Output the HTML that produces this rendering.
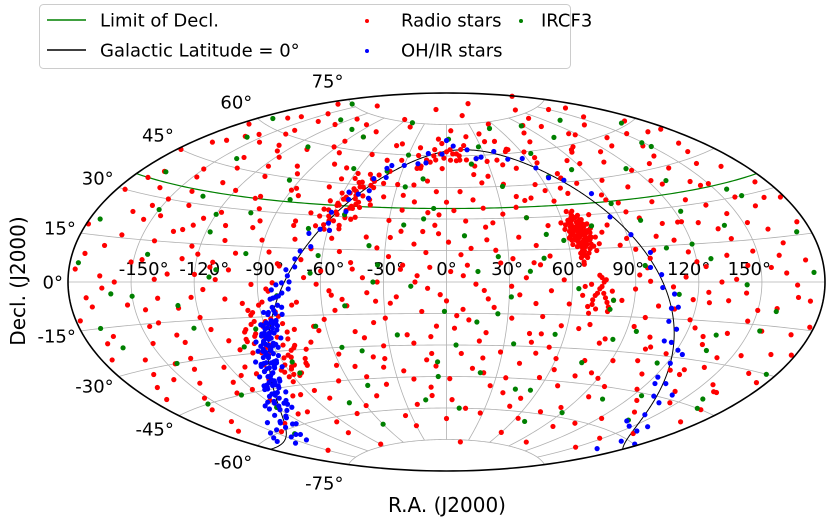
<!DOCTYPE html>
<html><head><meta charset="utf-8"><style>
html,body{margin:0;padding:0;background:#fff;}
svg{display:block;font-family:"DejaVu Sans","Liberation Sans",sans-serif;}
</style></head><body>
<svg id="chart" width="830" height="526" viewBox="0 0 830 526">
<g id="grid"></g>
<g id="ticks"></g>
<g id="lines"></g>
<g id="pts"></g>
<g id="frame"></g>
<text x="447" y="512" font-size="20" text-anchor="middle">R.A. (J2000)</text>
<text x="0" y="0" font-size="20" text-anchor="middle" transform="translate(25,281) rotate(-90)">Decl. (J2000)</text>
<g>
<rect x="39.5" y="4.5" width="531" height="64" rx="4" fill="#fff" fill-opacity="0.85" stroke="#ccc"/>
<g><line x1="47" y1="20" x2="86" y2="20" stroke="#008000" stroke-width="1.5"/><text x="100" y="26.5" font-size="18">Limit of Decl.</text></g>
<g><line x1="47" y1="50" x2="86" y2="50" stroke="#000" stroke-width="1.5"/><text x="100" y="56.5" font-size="18">Galactic Latitude = 0°</text></g>
<g><circle cx="367" cy="21" r="2" fill="#ff0000"/><text x="401" y="26.5" font-size="18">Radio stars</text></g>
<g><circle cx="367" cy="51" r="2" fill="#0000ff"/><text x="401" y="56.5" font-size="18">OH/IR stars</text></g>
<g><circle cx="521" cy="21" r="2" fill="#008000"/><text x="541" y="26.5" font-size="18">IRCF3</text></g>
</g>
</svg>
<script>
// ---------- data ----------
const lonTicks = [-150,-120,-90,-60,-30,0,30,60,90,120,150];
const latTicks = [-75,-60,-45,-30,-15,0,15,30,45,60,75];
const limitDecl = 35;
const redRA = [
-170,-135,-95,-62,-25,5,28,55,90,120,150,178,-150,70,
-175,-160,-140,-122,-108,-90,-75,-58,-40,-22,-8,12,30,45,62,80,98,115,135,155,170,-130,20,105,
-178,-165,-150,-138,-125,-112,-100,-88,-78,-66,-50,-38,-25,-12,-3,8,18,35,48,58,72,86,95,108,122,133,146,158,168,-145,40,115,
-176,-168,-155,-142,-131,-118,-106,-96,-84,-72,-55,-42,-30,-18,-6,4,15,24,38,52,60,75,88,100,112,126,138,150,162,174,-160,-125,-60,30,145,-10,
-179,-166,-154,-143,-132,-120,-109,-98,-86,-75,-62,-52,-40,-28,-16,-4,7,20,32,44,78,92,104,117,128,140,152,164,176,-147,-70,-23,12,110,135,
-177,-164,-151,-139,-127,-116,-104,-93,-81,-68,-56,-45,-33,-21,-9,2,14,26,38,50,96,108,120,131,143,155,167,-172,-120,-38,-14,45,125,160,
-178,-166,-153,-141,-129,-117,-106,-94,-72,-60,-48,-36,-24,-12,0,11,23,35,47,59,71,84,97,110,123,135,147,159,171,-135,-55,5,65,140,
-175,-162,-149,-136,-123,-111,-70,-58,-46,-33,-20,-8,4,17,29,42,54,66,79,91,103,116,129,141,154,166,178,-155,-40,60,125,
-172,-158,-144,-131,-118,-105,-66,-52,-38,-25,-11,2,15,28,41,56,70,84,98,112,126,140,155,168,-85,-10,
-168,-145,-120,-95,-60,-35,-10,15,38,62,85,110,135,160,-80,0,48,95,
-150,-90,-30,20,60,100,150,-100,
-165,-115,-80,-45,-10,35,75,110,140,165,-140,50,
-170,-155,-133,-118,-95,-83,-70,-58,-44,-30,-18,-6,10,22,40,54,66,79,92,102,118,128,140,152,164,176,
-172,-162,-148,-137,-120,-112,-100,-90,-78,-66,-48,-36,-24,-12,0,10,20,42,48,64,70,82,94,106,118,130,142,156,168,178,
-174,-160,-146,-136,-124,-113,-102,-91,-80,-66,-57,-46,-34,-22,-10,1,10,24,36,50,85,98,112,124,136,148,160,172,
-170,-158,-145,-133,-122,-110,-98,-85,-62,-50,-40,-27,-15,-3,8,20,31,43,56,90,102,114,126,138,150,162,174,
-171,-159,-146,-133,-120,-108,-66,-54,-42,-30,-17,-5,8,20,32,44,57,69,81,93,106,119,131,143,156,168,178,
-168,-152,-139,-126,-112,-62,-48,-34,-20,-6,8,22,36,48,62,76,90,104,118,132,146,162,175,
-160,-132,-105,-72,-48,-22,4,28,52,74,98,122,148,170,
-160,-140,-117,-92,-68,-44,-20,3,27,48,72,96,118,142,166,
-150,-128,-104,-78,-52,-28,-4,20,44,95,120,145,170,
-165,-138,-112,-86,-60,-34,-8,18,42,66,92,118,144,168,
-146,-118,-64,-36,-8,20,48,76,104,132,160,
-62,-60,-58,-56,-54,-52,-50,-48,-46,-61,-57,-53,-49,-45,-59,-55,-51,-47,-63,-58,-54,-50,-44,-56,-52,
-20,-15,-10,-5,0,5,10,15,20,-12,-2,8,18,-18,3
];
const redDec = [
73,78,71,76,82,72,79,74,71,77,73,80,70,84,
58,66,60,68,57,63,69,59,65,60,68,63,57,66,60,68,58,64,59,67,61,56,69,69,
45,52,42,49,54,44,50,41,53,47,44,52,41,48,54,43,51,46,53,42,49,54,44,51,41,47,53,43,50,55,40,55,
30,38,27,34,39,28,35,26,38,31,26,36,29,38,27,34,39,28,35,26,37,30,38,27,33,39,29,36,26,33,33,25,36,32,25,33,
18,12,22,15,20,11,17,23,13,19,24,14,21,12,18,23,13,20,11,17,22,14,19,12,23,16,21,13,19,24,10,24,16,24,10,
4,-2,7,1,9,-3,5,-1,8,2,-4,6,0,8,-3,5,-1,9,2,-4,6,-2,8,0,-4,5,-1,-5,3,-5,3,8,-4,9,
-12,-18,-8,-15,-10,-19,-7,-13,-9,-17,-11,-19,-7,-14,-9,-18,-12,-6,-16,-10,-19,-8,-15,-11,-18,-7,-14,-9,-17,-20,-6,-16,-6,-19,
-25,-32,-22,-29,-34,-24,-27,-33,-23,-30,-25,-34,-22,-28,-33,-24,-30,-21,-27,-34,-23,-29,-21,-32,-26,-31,-23,-35,-35,-35,-35,
-40,-47,-38,-44,-49,-41,-45,-39,-48,-42,-37,-46,-41,-49,-38,-44,-47,-40,-45,-38,-48,-42,-37,-45,-48,-50,
-55,-60,-53,-62,-57,-63,-54,-60,-52,-63,-56,-61,-52,-58,-52,-65,-58,-50,
-70,-74,-68,-76,-70,-72,-68,-67,
64,72,66,73,63,70,64,73,65,71,67,62,
50,57,45,52,47,58,43,50,57,46,55,43,58,47,55,45,57,44,52,59,46,56,44,58,47,55,
35,24,39,29,37,23,31,40,25,33,30,40,34,24,38,29,35,30,39,32,40,25,34,40,24,32,38,30,40,27,
9,16,8,19,14,6,12,18,7,15,20,9,16,6,14,19,8,15,21,12,16,10,17,6,20,11,18,7,
-8,0,-10,3,-6,1,-9,-4,-1,-8,2,-10,0,-6,3,-8,-2,-10,1,-3,-10,2,-8,1,-10,3,-6,
-20,-27,-16,-23,-14,-28,-20,-13,-26,-17,-29,-21,-13,-24,-17,-28,-20,-14,-25,-19,-27,-15,-24,-28,-17,-24,-14,
-36,-43,-33,-40,-35,-38,-44,-36,-46,-40,-34,-43,-45,-33,-40,-35,-42,-33,-44,-36,-46,-39,-33,
-52,-58,-56,-60,-53,-58,-56,-62,-54,-59,-64,-57,-63,-50,
55,62,48,60,52,64,46,58,50,61,47,57,63,49,56,
30,22,36,27,40,21,32,26,38,30,24,36,28,
2,-6,8,-3,5,-9,7,-4,9,-2,3,-7,6,-5,
-30,-38,-22,-40,-26,-36,-24,-42,-28,-34,-39,
30,35,38,41,33,44,36,40,45,28,39,42,37,47,32,43,34,48,26,31,46,29,50,38,35,
55,58,60,61,62,61,60,58,55,57,59,61,56,54,63
];
const orionRA = [68,70,72,74,76,78,71,73,75,77,79,69,72,74,76,70,73,78,80,75];
const orionDec = [-11,-8,-5,-2,1,-13,-6,-3,0,-9,-4,-1,-12,2,-7,-10,3,-11,-8,-5];
const taurusRA = [64,66,68,67,65,69,70,63,62,71,66,68,64,72,67,61,65,70,73,63,66,68,69,65,67,71,62,64,70,74,66,60,69,67,65,68,72,63,66,70,64,68,67,71,62,59,75,69,65,73,66,68,70,64,67,72,61,69,
66,67,68,65,64,69,70,66,67,68,63,65,71,66,69,64,67,68,65,70,66,62,72,67,64,69,66,68,65,67,63,70,66,68,64,71,67,65,69,66];
const taurusDec = [19,21,23,18,24,20,26,22,17,19,16,27,25,22,14,20,29,15,24,25,23,19,22,18,25,17,23,21,28,20,31,24,13,21,17,16,26,28,12,22,20,24,29,23,19,27,17,30,11,14,21,18,25,23,16,20,26,28,
20,22,18,24,16,21,25,14,27,19,23,13,20,30,17,26,12,23,28,19,9,21,16,32,20,13,25,22,18,15,27,23,17,11,24,19,29,21,26,8];
const gcRA = [-101,-98,-96,-94,-92,-90,-88,-86,-84,-82,-80,-78,-76,-99,-95,-91,-87,-83,-79,-97,-93,-89,-85,-81,-77,-100,-94,-90,-86,-82,-92,-88,-84,-96,-80,-90,-86,-74,-102,-78];
const gcDec = [-35,-30,-22,-38,-27,-18,-33,-24,-40,-15,-29,-36,-21,-26,-31,-19,-37,-13,-28,-23,-39,-17,-32,-25,-34,-20,-28,-36,-16,-30,-24,-38,-33,-12,-22,-27,-41,-30,-25,-37];
const redGalL = [60,62,64,66,68,70,72,74,76,78,80,82,84,86,88,90,65,71,77,83,100,104,108,112,116,120,124,128,132,136,140,-5,-10,-15,-20,-25,-30,5,10,15,20,25,30,0,-3,3,-8,8,-12,12,-18,18,150,160,175,190,200,210];
const redGalB = [3,-4,5,-2,4,-5,2,-3,6,-1,3,-6,4,-2,5,-3,-7,7,-6,8,3,-4,5,-3,4,-5,2,-4,5,-3,4,6,-7,5,-6,7,-5,-6,7,-5,6,-7,5,9,-10,10,-9,8,-8,9,-9,7,3,-4,5,-3,4,-5];
const blueL = [
-55,-52,-50,-48,-46,-44,-42,-40,-38,-36,-35,-33,-31,-30,-28,-26,-25,-23,-21,-20,-18,-17,-15,-14,-12,-11,-10,-9,-8,-7,-6,-5,-4,-3,-2,-1,0,1,2,3,4,5,6,7,8,9,10,11,12,14,15,17,18,20,22,24,26,28,30,32,34,36,38,41,44,
-47,-43,-37,-32,-27,-22,-19,-16,-13,-9,-6,-3,-1,1,3,5,8,10,13,16,19,23,27,31,
-53,-45,-39,-34,-29,-24,-20,-17,-14,-11,-8,-5,-2,0,2,4,6,9,12,15,
-29,-27,-24,-22,-19,-16,-13,-10,-7,-4,-2,0,2,4,7,10,13,16,19,22,25,-26,-21,-15,-9,-5,-1,3,6,11,-18,-12,-6,-3,1,5,9,14,-23,-17,
48,52,56,60,64,68,72,76,80,84,88,92,96,100,105,110,115,120,125,130,135,140,145,150,155,160,170,180,190,200,205,210,215,220,225,230,235,240,245,250,255,260,265,270,275,280,285,290,295,
62,78,82,94,108,118,128,226,238,248,258,268,276,284,292
];
const blueB = [
1,-2,3,-1,2,-3,0,1,-2,2,-1,3,0,-2,1,-3,2,0,-1,3,-2,1,0,-3,2,-1,3,0,-2,1,-1,2,-3,0,1,-2,3,-1,0,2,-3,1,-1,2,0,-2,3,-1,1,0,-2,2,-1,1,-3,2,0,-1,3,1,-2,0,2,-1,1,
-4,4,-3,4,-4,3,-4,4,-3,5,-5,4,-4,5,-4,3,-5,4,-3,4,-4,3,4,-3,
2,-2,1,-1,3,-3,2,-2,1,-1,2,-2,1,-1,2,-2,1,-1,2,-2,
0,1,-1,0,2,-1,0,1,-2,0,2,-1,1,-2,0,1,-1,2,0,-1,1,-2,2,-1,3,-3,2,-2,3,-3,0,2,-2,1,-1,0,2,-2,1,-1,
1,-2,3,0,-1,2,-3,1,0,-2,2,-1,3,0,-2,1,-1,2,0,-3,1,-1,2,0,-2,1,3,-1,0,2,-2,1,-1,3,0,-2,1,-1,2,0,-3,1,-1,2,0,-2,1,-1,2,
-4,4,-5,3,-3,5,-4,3,-4,4,-3,5,-4,3,-5
];
const greenRA = [
-172,-158,-141,-127,-110,-96,-80,-63,-47,-30,-15,2,18,34,51,66,83,99,116,132,149,165,
-167,-150,-134,-118,-103,-87,-70,-54,-38,-22,-7,9,25,42,58,74,90,107,123,140,156,173,
-176,-160,-144,-129,-113,-97,-81,-65,-49,-33,-17,-1,15,31,47,63,79,95,111,127,143,159,175,
-165,-145,-125,-105,-85,-65,-45,-25,-5,15,35,55,75,95,115,135,155,
-155,-120,-85,-50,-15,20,55,90,125,160,-140,-60,10,70,140,
-162,-100,-40,28,88,150,-175,-120,-62,-12,50,100,160,-150,-95,-35,25,80,135,175,-130,-70,-5,45,105,165,-110,40,120,-55,5,85,-170,-25,65,130
];
const greenDec = [
62,55,48,70,58,44,66,52,75,60,49,68,56,45,72,59,50,64,47,69,54,61,
38,26,33,20,29,36,24,31,17,27,35,22,12,30,19,25,34,14,28,21,33,16,
6,-4,10,-9,2,12,-6,4,-11,8,-2,-14,5,-7,11,-3,-12,7,-5,9,-1,-10,3,
-22,-30,-18,-27,-35,-20,-32,-25,-38,-19,-29,-24,-36,-21,-33,-26,-17,
-45,-52,-40,-48,-56,-43,-50,-58,-46,-42,-62,-66,-60,-64,-55,
75,68,52,64,71,52,20,27,12,30,22,26,30,-5,-20,0,-15,-8,-20,-30,-45,-55,-45,-50,-50,-45,5,5,15,-30,-30,-25,-15,45,48,40
];

// ---------- projection (Aitoff) ----------
const CX = 446.5, CY = 282, SX = 378.5/Math.PI, SY = 189/(Math.PI/2);
const D2R = Math.PI/180;
function proj(lon, lat){
  const l = lon*D2R, p = lat*D2R;
  const a = Math.acos(Math.min(1, Math.cos(p)*Math.cos(l/2)));
  const s = a < 1e-9 ? 1 : Math.sin(a)/a;
  return [CX + SX*2*Math.cos(p)*Math.sin(l/2)/s, CY - SY*Math.sin(p)/s];
}
function wrap(ra){ ra = ((ra % 360) + 360) % 360; return ra > 180 ? ra - 360 : ra; }
function galToEq(l, b){
  const dG = 27.12825*D2R, aG = 192.85948, lN = 122.93192;
  const lb = b*D2R, dl = (lN - l)*D2R;
  const sd = Math.sin(lb)*Math.sin(dG) + Math.cos(lb)*Math.cos(dG)*Math.cos(dl);
  const y = Math.cos(lb)*Math.sin(dl);
  const x = Math.sin(lb)*Math.cos(dG) - Math.cos(lb)*Math.sin(dG)*Math.cos(dl);
  return [wrap(aG + Math.atan2(y, x)/D2R), Math.asin(sd)/D2R];
}
const NS = "http://www.w3.org/2000/svg";
function mk(tag, parent){ const e = document.createElementNS(NS, tag); parent.appendChild(e); return e; }
function pathFrom(pts){ return pts.map((p,i)=>(i?"L":"M")+p[0].toFixed(2)+","+p[1].toFixed(2)).join(""); }

// ---------- grid ----------
const grid = document.getElementById("grid");
lonTicks.forEach(lon=>{
  const pts=[]; for(let la=-75; la<=75; la+=1) pts.push(proj(lon, la));
  const e = mk("path", grid);
  
  
  e.setAttribute("d", pathFrom(pts)); e.setAttribute("fill","none"); e.setAttribute("stroke","#b0b0b0"); e.setAttribute("stroke-width","0.8");
});
latTicks.forEach(lat=>{
  const pts=[]; for(let lo=-180; lo<=180; lo+=2) pts.push(proj(lo, lat));
  const e = mk("path", grid);
  
  
  e.setAttribute("d", pathFrom(pts)); e.setAttribute("fill","none"); e.setAttribute("stroke","#b0b0b0"); e.setAttribute("stroke-width","0.8");
});

// ---------- tick labels ----------
const ticks = document.getElementById("ticks");
lonTicks.forEach(lon=>{
  const p = proj(lon, 0);
  const t = mk("text", ticks);
  
  
  t.setAttribute("x", (CX + (p[0]-CX)*0.96).toFixed(1)); t.setAttribute("y", (p[1]-7).toFixed(1));
  t.setAttribute("font-size","18"); t.setAttribute("text-anchor","middle");
  t.textContent = lon + "°";
});
latTicks.forEach(lat=>{
  const p = proj(-180, lat);
  const t = mk("text", ticks);
  
  
  t.setAttribute("x", (p[0]-5).toFixed(1)); t.setAttribute("y", (p[1] - 19*Math.sin(lat*D2R) + 6.5).toFixed(1));
  t.setAttribute("font-size","18"); t.setAttribute("text-anchor","end");
  t.textContent = lat + "°";
});

// ---------- reference lines ----------
const lines = document.getElementById("lines");
{
  const pts=[]; for(let lo=-180; lo<=180; lo+=2) pts.push(proj(lo, limitDecl));
  const e = mk("path", lines);
  
  
  e.setAttribute("d", pathFrom(pts)); e.setAttribute("fill","none"); e.setAttribute("stroke","#008000"); e.setAttribute("stroke-width","1.2");
}
{
  let segs=[[]], prev=null;
  for(let l=0; l<=360; l+=0.5){
    const q = galToEq(l, 0);
    if(prev!==null && Math.abs(q[0]-prev) > 180) segs.push([]);
    segs[segs.length-1].push(proj(q[0], q[1])); prev = q[0];
  }
  segs.forEach(s=>{ if(s.length<2) return;
    const e = mk("path", lines);
    
    
    e.setAttribute("d", pathFrom(s)); e.setAttribute("fill","none"); e.setAttribute("stroke","#000"); e.setAttribute("stroke-width","1");
  });
}

// ---------- points ----------
const pg = document.getElementById("pts");
function dot(ra, dec, color, name){
  const p = proj(ra, dec);
  const c = mk("circle", pg);
  
  
  c.setAttribute("cx", p[0].toFixed(2)); c.setAttribute("cy", p[1].toFixed(2)); c.setAttribute("r","2.6"); c.setAttribute("fill", color);
}
redRA.forEach((ra,i)=>dot(ra, redDec[i], "#ff0000", "radio-star-point"));
orionRA.forEach((ra,i)=>dot(ra, orionDec[i], "#ff0000", "radio-star-point"));
taurusRA.forEach((ra,i)=>dot(ra, taurusDec[i], "#ff0000", "radio-star-point"));
gcRA.forEach((ra,i)=>dot(ra, gcDec[i], "#ff0000", "radio-star-point"));
redGalL.forEach((l,i)=>{ const q = galToEq(l, redGalB[i]); dot(q[0], q[1], "#ff0000", "radio-star-point"); });
greenRA.forEach((ra,i)=>dot(ra, greenDec[i], "#008000", "ircf3-point"));
blueL.forEach((l,i)=>{ const q = galToEq(l, blueB[i]); dot(q[0], q[1], "#0000ff", "ohir-star-point"); });

// ---------- frame ----------
{
  const pts=[]; for(let la=-90; la<=90; la+=1) pts.push(proj(180, la));
  for(let la=90; la>=-90; la-=1) pts.push(proj(-180, la));
  const e = mk("path", document.getElementById("frame"));
  
  
  e.setAttribute("d", pathFrom(pts)+"Z"); e.setAttribute("fill","none"); e.setAttribute("stroke","#000"); e.setAttribute("stroke-width","1.6");
}
</script>
</body></html>
